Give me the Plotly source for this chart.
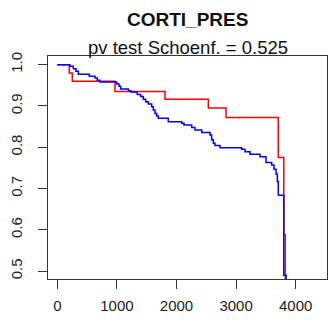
import plotly.graph_objects as go

# Kaplan-Meier style step curves (time, survival after event)
red_time = [0, 201, 252, 968, 1807, 2534, 2831, 3708, 3800, 3825]
red_surv = [1.0, 0.980, 0.960, 0.935, 0.916, 0.895, 0.872, 0.775, 0.588, 0.0]

blue_time = [0, 213, 269, 314, 353, 537, 633, 671, 716, 996, 1035, 1063, 1192, 1237,
             1342, 1399, 1443, 1483, 1527, 1584, 1611, 1639, 1667, 1695, 1862, 2087,
             2126, 2255, 2310, 2423, 2562, 2590, 2618, 2646, 2730, 3093, 3149, 3233,
             3401, 3502, 3597, 3636, 3670, 3692, 3708, 3800, 3840]
blue_surv = [1.0, 0.996, 0.990, 0.984, 0.977, 0.972, 0.968, 0.962, 0.958, 0.953, 0.948,
             0.941, 0.937, 0.934, 0.928, 0.923, 0.916, 0.910, 0.905, 0.898, 0.890, 0.882,
             0.876, 0.870, 0.862, 0.858, 0.854, 0.848, 0.842, 0.836, 0.830, 0.818, 0.810,
             0.804, 0.799, 0.795, 0.789, 0.783, 0.777, 0.763, 0.757, 0.747, 0.735, 0.717,
             0.684, 0.490, 0.0]

x_ticks = [0, 1000, 2000, 3000, 4000]
y_ticks = [0.5, 0.6, 0.7, 0.8, 0.9, 1.0]
y_tick_labels = ["0.5", "0.6", "0.7", "0.8", "0.9", "1.0"]

title_text = "CORTI_PRES"
subtitle_text = "pv test Schoenf. = 0.525"

FONT = "Liberation Sans, Arial, sans-serif"
AX = "#333333"

fig = go.Figure()
fig.add_trace(go.Scatter(x=red_time, y=red_surv, mode="lines", line_shape="hv",
                         line=dict(color="#FF0000", width=1.5), showlegend=False))
fig.add_trace(go.Scatter(x=blue_time, y=blue_surv, mode="lines", line_shape="hv",
                         line=dict(color="#0000FF", width=1.5), showlegend=False))

fig.update_layout(
    width=329, height=325,
    margin=dict(l=48, r=2, t=56, b=46),
    paper_bgcolor="white", plot_bgcolor="white",
    font=dict(family=FONT, size=15, color="#222222"),
    showlegend=False,
    annotations=[
        dict(text="<b>%s</b>" % title_text, xref="paper", yref="paper", x=0.5, y=1.165,
             xanchor="center", yanchor="middle", showarrow=False,
             font=dict(family=FONT, size=19, color="#111111")),
        dict(text=subtitle_text, xref="paper", yref="paper", x=0.5, y=1.04,
             xanchor="center", yanchor="middle", showarrow=False,
             font=dict(family=FONT, size=18.5, color="#111111")),
    ],
)
fig.update_xaxes(range=[-156, 4525], tickvals=x_ticks, ticktext=[str(v) for v in x_ticks],
                 showgrid=False, zeroline=False, showline=True, mirror=True,
                 linecolor=AX, linewidth=1, ticks="outside", ticklen=9, tickcolor=AX,
                 ticklabelstandoff=4)
fig.update_yaxes(range=[0.481, 1.021], tickvals=y_ticks, ticktext=y_tick_labels,
                 showgrid=False, zeroline=False, showline=True, mirror=True,
                 linecolor=AX, linewidth=1, ticks="outside", ticklen=9, tickcolor=AX,
                 tickangle=-90, ticklabelstandoff=10)

fig.write_html("out.html")
